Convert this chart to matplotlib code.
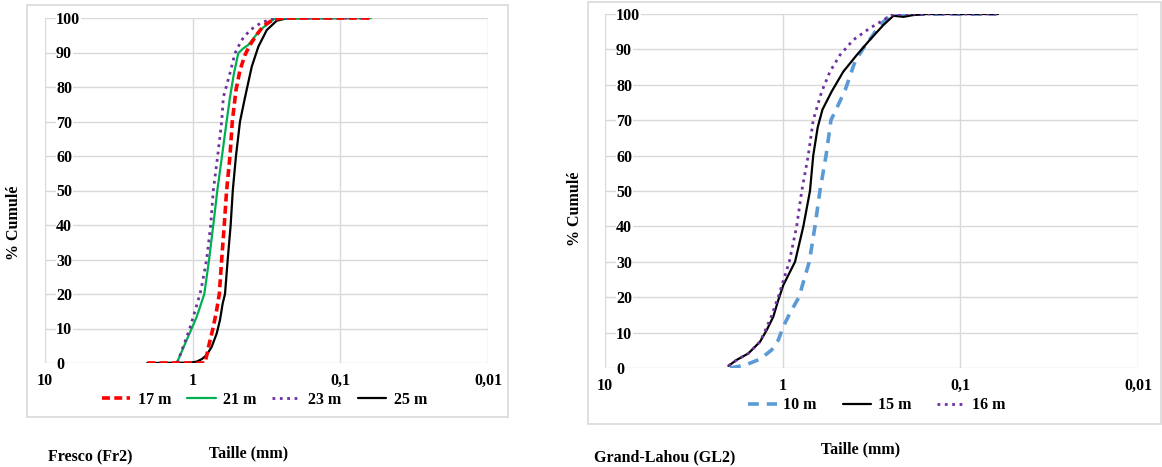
"""Cumulative grain-size curves, Fresco (Fr2) and Grand-Lahou (GL2)."""

import matplotlib
matplotlib.use("Agg")
import matplotlib.pyplot as plt
from matplotlib.patches import Rectangle
from matplotlib.ticker import FixedLocator, NullLocator

plt.rcParams["font.family"] = ["Liberation Serif", "DejaVu Serif"]
plt.rcParams["font.weight"] = "bold"

W, H = 1162, 467

# ---- Fresco (Fr2): size (mm) vs cumulative % ---------------------------------
FR_17_SIZE = [2.03, 0.825, 0.778, 0.729, 0.690, 0.660, 0.636, 0.611, 0.589, 0.559,
              0.539, 0.509, 0.478, 0.442, 0.409, 0.369, 0.332, 0.284, 0.243, 0.0625]
FR_17_PCT = [0, 0, 5, 10, 15, 20, 30, 40, 50, 60,
             70, 79.1, 84.9, 89.3, 92.2, 95.1, 97.7, 99.6, 100, 100]

FR_21_SIZE = [1.283, 1.186, 1.097, 1.015, 0.939, 0.883, 0.834, 0.774, 0.725, 0.681,
              0.633, 0.589, 0.559, 0.525, 0.491, 0.454, 0.420, 0.350, 0.277, 0.0625]
FR_21_PCT = [0, 3.3, 6.7, 10, 13.4, 16.8, 20, 30, 40, 50,
             60, 70, 77, 84, 89.8, 91.2, 92.2, 96.5, 99.9, 100]

FR_23_SIZE = [1.270, 1.205, 1.127, 1.054, 0.990, 0.930, 0.878, 0.804, 0.755, 0.725,
              0.677, 0.636, 0.620, 0.559, 0.517, 0.466, 0.409, 0.350, 0.300, 0.256,
              0.0625]
FR_23_PCT = [0, 2.8, 6.2, 9.6, 13.4, 17.3, 21.2, 30, 40, 50,
             60, 70, 77, 84, 89.8, 93.6, 96.5, 98.4, 99.6, 100,
             100]

FR_25_SIZE = [2.03, 1.042, 0.939, 0.869, 0.804, 0.743, 0.687, 0.653, 0.626, 0.604,
              0.579, 0.553, 0.535, 0.509, 0.478, 0.442, 0.398, 0.359, 0.315, 0.270,
              0.231, 0.0625]
FR_25_PCT = [0, 0.1, 0.4, 1.1, 2.3, 4.7, 8.6, 12.5, 17.3, 20,
             30, 40, 50, 60, 70, 77, 85.9, 91.7, 96.5, 99.2,
             99.9, 100]

# ---- Grand-Lahou (GL2) ---------------------------------------------------------
GL_10_SIZE = [1.978, 1.63, 1.342, 1.153, 1.058, 0.992, 0.91, 0.81, 0.708, 0.658,
              0.617, 0.570, 0.535, 0.490, 0.445, 0.392, 0.352, 0.315, 0.283, 0.254,
              0.238, 0.063]
GL_10_PCT = [0, 0.8, 2.5, 5.1, 7.9, 11.7, 15.5, 20, 30, 40,
             50, 60, 70, 74, 78.5, 86.5, 90.3, 93.6, 96.9, 99.2,
             100, 100]

GL_15_SIZE = [2.02, 1.813, 1.561, 1.342, 1.230, 1.129, 1.058, 0.992, 0.852, 0.765,
              0.702, 0.673, 0.635, 0.597, 0.530, 0.456, 0.383, 0.323, 0.271, 0.238,
              0.209, 0.184, 0.155, 0.0614]
GL_15_PCT = [0.6, 2.3, 4.1, 7.4, 10.7, 14.5, 19.2, 23.4, 30, 40,
             50, 60, 68, 73, 78.1, 83.7, 88.4, 92.7, 96.9, 99.5,
             99.2, 99.7, 100, 100]

GL_16_SIZE = [2.02, 1.813, 1.561, 1.342, 1.25, 1.16, 1.06, 0.918, 0.834, 0.781,
              0.718, 0.673, 0.603, 0.542, 0.476, 0.400, 0.323, 0.271, 0.243, 0.20,
              0.0614]
GL_16_PCT = [0.6, 2.3, 4.1, 7.4, 10.7, 14.5, 20, 30, 40, 50,
             60, 70, 78.1, 83.7, 88.4, 92.7, 96, 98.3, 99.7, 100,
             100]

X_TICKS = [10, 1, 0.1, 0.01]
X_TICK_LABELS = ["10", "1", "0,1", "0,01"]
Y_TICKS = list(range(0, 101, 10))

GRID = "#d9d9d9"
FS = 11.5


def px_axes(fig, x0, y0, x1, y1):
    return fig.add_axes([x0 / W, 1 - y1 / H, (x1 - x0) / W, (y1 - y0) / H])


def px_box(fig, x0, y0, x1, y1):
    fig.patches.append(Rectangle((x0 / W, 1 - y1 / H), (x1 - x0) / W, (y1 - y0) / H,
                                 transform=fig.transFigure, fill=False,
                                 edgecolor=GRID, linewidth=1.2))


def style_axes(ax):
    ax.set_xscale("log")
    ax.set_xlim(10, 0.01)
    ax.set_ylim(0, 100)
    ax.xaxis.set_major_locator(FixedLocator(X_TICKS))
    ax.xaxis.set_minor_locator(NullLocator())
    ax.set_xticklabels(X_TICK_LABELS)
    ax.set_yticks(Y_TICKS)
    ax.grid(True, color=GRID, linewidth=1.0)
    ax.set_axisbelow(True)
    for sp in ax.spines.values():
        sp.set_visible(False)
    ax.tick_params(axis="x", length=0, pad=7, labelsize=FS)
    ax.tick_params(axis="y", length=0, pad=-8, labelsize=FS)
    for lab in ax.get_yticklabels():
        lab.set_horizontalalignment("left")
        lab.set_bbox(dict(facecolor="white", edgecolor="none", pad=0.3))
    ax.patch.set_alpha(0)


fig = plt.figure(figsize=(W / 100, H / 100), dpi=100)
line_kw = dict(solid_joinstyle="round", solid_capstyle="round")

# left panel
px_box(fig, 27, 5, 508, 417)
ax1 = px_axes(fig, 45, 18, 488, 363)
style_axes(ax1)
ax1.plot(FR_25_SIZE, FR_25_PCT, color="black", lw=1.6, label="25 m", zorder=3, **line_kw)
ax1.plot(FR_21_SIZE, FR_21_PCT, color="#00b050", lw=1.6, label="21 m", zorder=4, **line_kw)
ax1.plot(FR_23_SIZE, FR_23_PCT, color="#7030a0", lw=2.0, ls=":", label="23 m", zorder=5)
ax1.plot(FR_17_SIZE, FR_17_PCT, color="#ff0000", lw=2.6, dashes=(2.2, 1.2), label="17 m", zorder=6)
h, l = ax1.get_legend_handles_labels()
order = [3, 1, 2, 0]
ax1.legend([h[i] for i in order], [l[i] for i in order], ncol=4, frameon=False,
           loc="center", bbox_to_anchor=(0.495, -0.107), fontsize=FS,
           handlelength=1.8, handletextpad=0.45, columnspacing=1.0)

fig.text(14 / W, 1 - 223 / H, "% Cumulé", rotation=90, ha="center", va="center", fontsize=FS)
fig.text(48 / W, 1 - 457 / H, "Fresco (Fr2)", ha="left", va="center", fontsize=FS)
fig.text(249 / W, 1 - 453 / H, "Taille (mm)", ha="center", va="center", fontsize=FS)

# right panel
px_box(fig, 588, 2, 1161, 424)
ax2 = px_axes(fig, 605, 14, 1138, 368)
style_axes(ax2)
ax2.plot(GL_10_SIZE, GL_10_PCT, color="#5b9bd5", lw=2.6, dashes=(3.0, 2.2), label="10 m", zorder=3)
ax2.plot(GL_15_SIZE, GL_15_PCT, color="black", lw=1.6, label="15 m", zorder=4, **line_kw)
ax2.plot(GL_16_SIZE, GL_16_PCT, color="#7030a0", lw=2.0, ls=":", label="16 m", zorder=5)
ax2.legend(ncol=3, frameon=False, loc="center", bbox_to_anchor=(0.51, -0.105),
           fontsize=FS, handlelength=1.8, handletextpad=0.4, columnspacing=1.6)

fig.text(575 / W, 1 - 209 / H, "% Cumulé", rotation=90, ha="center", va="center", fontsize=FS)
fig.text(594 / W, 1 - 457 / H, "Grand-Lahou (GL2)", ha="left", va="center", fontsize=FS)
fig.text(861 / W, 1 - 449 / H, "Taille (mm)", ha="center", va="center", fontsize=FS)

fig.savefig("out.png", dpi=100)
